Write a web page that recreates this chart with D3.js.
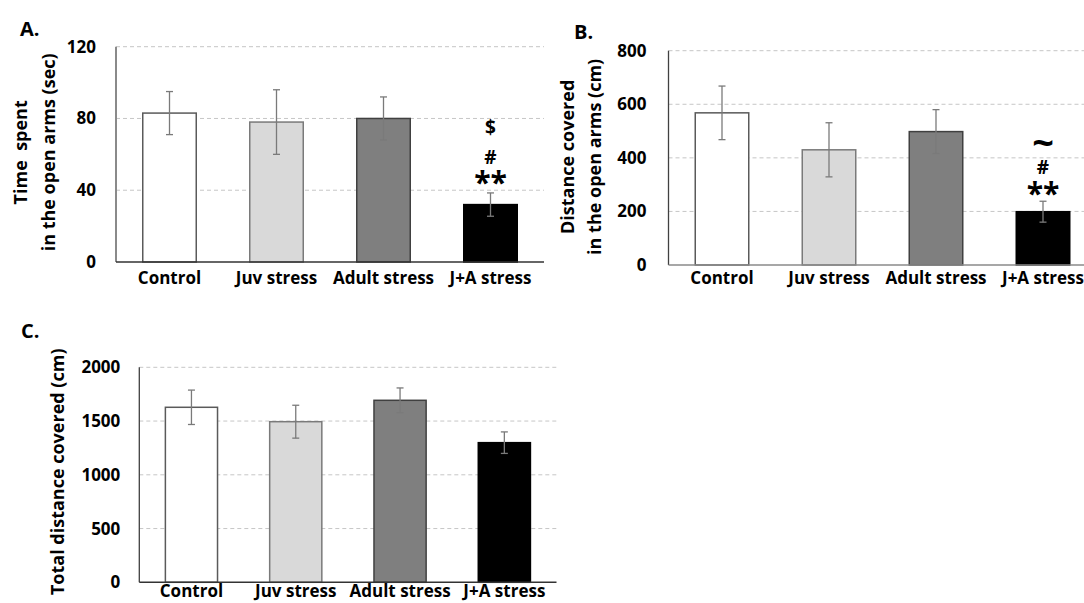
<!DOCTYPE html>
<html><head><meta charset="utf-8">
<script src="https://cdn.jsdelivr.net/npm/d3@7"></script>
<style>
html,body{margin:0;padding:0;background:#fff;}
svg{display:block;font-family:"Open Sans",sans-serif;}
</style></head>
<body>
<svg id="c" width="1084" height="603"></svg>
<script>
// ---- data ----
const categories = ["Control", "Juv stress", "Adult stress", "J+A stress"];
const timeOpenArms = [83, 78, 80, 32];
const timeOpenArmsErr = [12, 18, 12, 6.5];
const distOpenArms = [568, 430, 498, 199];
const distOpenArmsErr = [100, 101, 82, 39];
const totalDist = [1628, 1494, 1693, 1299];
const totalDistErr = [160, 153, 115, 100];
const ticksA = [0, 40, 80, 120];
const ticksB = [0, 200, 400, 600, 800];
const ticksC = [0, 500, 1000, 1500, 2000];
const marksA = ["**", "#", "$"];
const marksB = ["**", "#", "~"];

// ---- styles ----
const fills = ["#ffffff", "#d9d9d9", "#7f7f7f", "#000000"];
const strokes = ["#5a5a5a", "#7a7a7a", "#404040", "#000000"];

const svg = d3.select("#c");

function panel(o) {
  const g = svg.append("g");
  const x = d3.scaleBand().domain(categories).range(o.xr).paddingInner(0.5).paddingOuter(0.25);
  const y = d3.scaleLinear().domain(o.domain).range(o.yr);

  // gridlines
  g.selectAll("line.grid").data(o.ticks.filter(t => t > 0)).join("line")
    .attr("x1", o.xr[0]).attr("x2", o.gridEnd)
    .attr("y1", d => y(d)).attr("y2", d => y(d))
    .attr("stroke", "#c6c6c6").attr("stroke-width", 1).attr("stroke-dasharray", "4,3");

  // bars
  g.selectAll("rect.bar").data(o.values).join("rect")
    .attr("x", (d, i) => x(categories[i]))
    .attr("width", x.bandwidth())
    .attr("y", d => y(d))
    .attr("height", d => y(0) - y(d))
    .attr("fill", (d, i) => fills[i])
    .attr("stroke", (d, i) => strokes[i])
    .attr("stroke-width", 1.5);

  // error bars
  const eb = g.selectAll("g.err").data(o.values).join("g");
  eb.append("line")
    .attr("x1", (d, i) => x(categories[i]) + x.bandwidth() / 2)
    .attr("x2", (d, i) => x(categories[i]) + x.bandwidth() / 2)
    .attr("y1", (d, i) => y(d + o.err[i]))
    .attr("y2", (d, i) => y(d - o.err[i]))
    .attr("stroke", "#7a7a7a").attr("stroke-width", 1.3);
  [1, -1].forEach(s => {
    eb.append("line")
      .attr("x1", (d, i) => x(categories[i]) + x.bandwidth() / 2 - 3.5)
      .attr("x2", (d, i) => x(categories[i]) + x.bandwidth() / 2 + 3.5)
      .attr("y1", (d, i) => y(d + s * o.err[i]))
      .attr("y2", (d, i) => y(d + s * o.err[i]))
      .attr("stroke", "#7a7a7a").attr("stroke-width", 1.3);
  });

  // y axis
  const ya = g.append("g").attr("transform", `translate(${o.xr[0]},0)`)
    .call(d3.axisLeft(y).tickValues(o.ticks).tickSize(0).tickPadding(o.tickPad).tickFormat(d3.format("d")));
  ya.select(".domain").remove();
  ya.selectAll("text").attr("font-family", "Open Sans").attr("font-weight", 700)
    .attr("font-size", 17).attr("fill", "#000");
  g.append("line").attr("x1", o.xr[0]).attr("x2", o.xr[0]).attr("y1", y(o.domain[1])).attr("y2", y(0))
    .attr("stroke", o.yAxisColor).attr("stroke-width", o.yAxisWidth);

  // x axis
  const xa = g.append("g").attr("transform", `translate(0,${y(0)})`)
    .call(d3.axisBottom(x).tickSize(0).tickPadding(o.catPad));
  xa.select(".domain").remove();
  xa.selectAll("text").attr("font-family", "Open Sans").attr("font-weight", 700)
    .attr("font-size", 17).attr("fill", "#000");
  g.append("line").attr("x1", o.xr[0]).attr("x2", o.gridEnd).attr("y1", y(0)).attr("y2", y(0))
    .attr("stroke", o.xAxisColor).attr("stroke-width", 1.6);

  // y label
  const cy = (y(0) + y(o.domain[1])) / 2;
  o.ylabel.forEach((t, k) => {
    g.append("text").attr("transform", `translate(${o.ylabelX[k]},${cy + o.ylabelDy}) rotate(-90)`)
      .attr("text-anchor", "middle").attr("dominant-baseline", "central")
      .attr("font-family", "Open Sans").attr("font-weight", 700).attr("font-size", 18)
      .attr("fill", "#000").attr("xml:space", "preserve").style("white-space", "pre").text(t);
  });

  // panel letter
  g.append("text").attr("x", o.letterPos[0]).attr("y", o.letterPos[1])
    .attr("font-family", "Open Sans").attr("font-weight", 700).attr("font-size", 20)
    .attr("fill", "#000").text(o.letter);

  // significance marks above last bar (one text element, stacked tspans)
  if (o.marks) {
    const cx = x(categories[3]) + x.bandwidth() / 2;
    const mt = g.append("text").attr("text-anchor", "middle")
      .attr("font-family", "Open Sans").attr("font-weight", 700).attr("fill", "#000");
    o.marks.forEach((m, k) => {
      mt.append("tspan").attr("x", cx).attr("y", o.markY[k])
        .attr("font-size", o.markSize[k]).text(m);
    });
  }
}

panel({
  letter: "A.", letterPos: [20, 36],
  xr: [116, 544], gridEnd: 544, yr: [262, 46.7], domain: [0, 120], ticks: ticksA,
  values: timeOpenArms, err: timeOpenArmsErr, tickPad: 20, catPad: 10,
  yAxisColor: "#8a8a8a", yAxisWidth: 2, xAxisColor: "#333",
  ylabel: ["Time  spent", "in the open arms (sec)"], ylabelX: [20, 48], ylabelDy: -2,
  marks: marksA, markY: [193, 164, 134], markSize: [30, 19, 19]
});

panel({
  letter: "B.", letterPos: [574, 39],
  xr: [668.5, 1096.5], gridEnd: 1084, yr: [265, 50.7], domain: [0, 800], ticks: ticksB,
  values: distOpenArms, err: distOpenArmsErr, tickPad: 22, catPad: 7,
  yAxisColor: "#404040", yAxisWidth: 1.3, xAxisColor: "#8a8a8a",
  ylabel: ["Distance covered", "in the open arms (cm)"], ylabelX: [567, 594], ylabelDy: -1,
  marks: marksB, markY: [204, 174, 156], markSize: [30, 19, 38]
});

panel({
  letter: "C.", letterPos: [21, 338],
  xr: [139.3, 556.5], gridEnd: 556.5, yr: [582.3, 367.3], domain: [0, 2000], ticks: ticksC,
  values: totalDist, err: totalDistErr, tickPad: 19, catPad: 3,
  yAxisColor: "#404040", yAxisWidth: 1.3, xAxisColor: "#333",
  ylabel: ["Total distance covered (cm)"], ylabelX: [57], ylabelDy: -3,
  marks: null
});
</script>
</body></html>
